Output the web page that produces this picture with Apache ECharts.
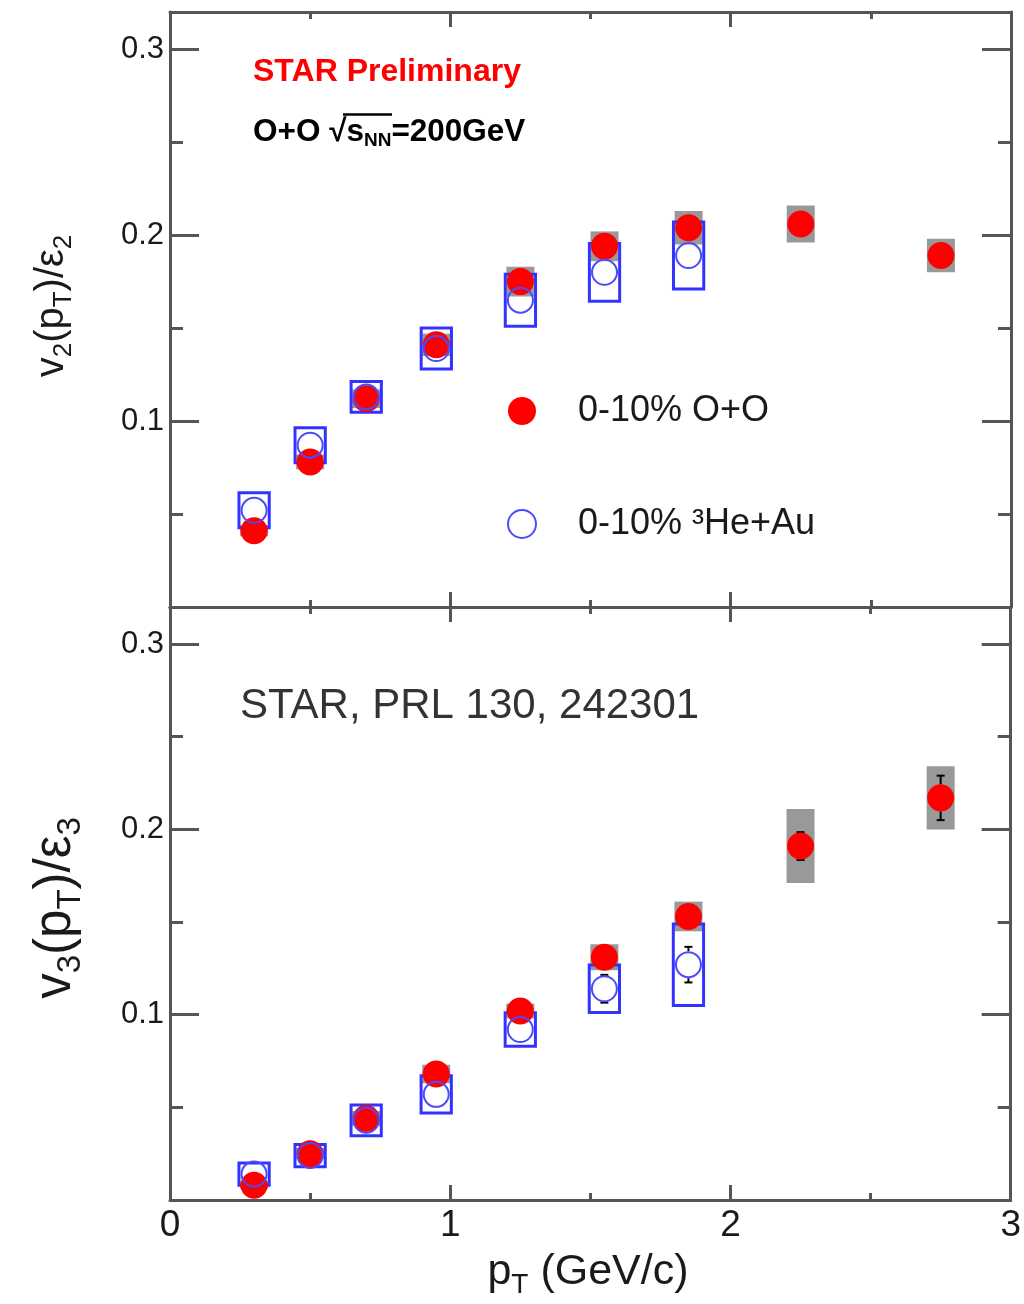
<!DOCTYPE html>
<html><head><meta charset="utf-8">
<script src="https://cdn.jsdelivr.net/npm/echarts@6/dist/echarts.min.js"></script>
<style>html,body{margin:0;padding:0;background:#fff}#c{width:1024px;height:1304px}</style>
</head><body><div id="c"></div>
<script>
// ---------- data ----------
const pT_OO   = [0.3, 0.5, 0.7, 0.95, 1.25, 1.55, 1.85, 2.25, 2.75];
const pT_HeAu = [0.3, 0.5, 0.7, 0.95, 1.25, 1.55, 1.85];

const v2_OO      = [0.041, 0.078, 0.112, 0.141, 0.175, 0.194, 0.204, 0.206, 0.189];
const v2_OO_stat = [0.001, 0.001, 0.001, 0.002, 0.002, 0.003, 0.003, 0.004, 0.005];
const v2_OO_sys  = [0.003, 0.004, 0.005, 0.006, 0.008, 0.008, 0.009, 0.010, 0.009];
const v2_HeAu      = [0.052, 0.087, 0.113, 0.139, 0.165, 0.180, 0.189];
const v2_HeAu_stat = [0.001, 0.001, 0.001, 0.002, 0.002, 0.003, 0.004];
const v2_HeAu_sys  = [0.0094, 0.0094, 0.0083, 0.011, 0.014, 0.0155, 0.018];

const v3_OO      = [0.008, 0.025, 0.044, 0.068, 0.102, 0.131, 0.153, 0.191, 0.217];
const v3_OO_stat = [0.001, 0.001, 0.002, 0.002, 0.003, 0.004, 0.005, 0.0075, 0.012];
const v3_OO_sys  = [0.002, 0.003, 0.004, 0.005, 0.004, 0.007, 0.008, 0.020, 0.017];
const v3_HeAu      = [0.014, 0.024, 0.043, 0.057, 0.092, 0.114, 0.127];
const v3_HeAu_stat = [0.002, 0.002, 0.003, 0.004, 0.005, 0.0075, 0.0096];
const v3_HeAu_sys  = [0.006, 0.006, 0.0083, 0.010, 0.009, 0.0128, 0.022];

const xTickLabels = [0, 1, 2, 3];
const yTickLabels = [0.1, 0.2, 0.3];
const NAME_OO = '0-10% O+O';
const NAME_HE = '0-10% \u00B3He+Au';

// ---------- styling ----------
const FONT = "'Liberation Sans', Arial, Helvetica, sans-serif";
const FRAME = '#555555';
const RED = '#ff0000';
const BLUE = '#3333ff';
const GRAY = '#999999';
const MARK = 27;

const chart = echarts.init(document.getElementById('c'), null, {renderer: 'canvas', width: 1024, height: 1304});

function xAx(grid, pos, showLabel) {
  return {
    type: 'value', gridIndex: grid, position: pos, min: 0, max: 3, interval: 1,
    axisLine: {show: true, onZero: false, lineStyle: {color: FRAME, width: 3}},
    axisTick: {show: true, inside: true, length: 15, lineStyle: {color: FRAME, width: 3}},
    minorTick: {show: true, splitNumber: 2, length: 7, lineStyle: {color: FRAME, width: 3}},
    splitLine: {show: false}, minorSplitLine: {show: false},
    axisLabel: {show: showLabel, fontSize: 37, color: '#1a1a1a', fontFamily: FONT, margin: 7,
      formatter: v => xTickLabels.indexOf(v) >= 0 ? String(v) : ''}
  };
}
function yAx(grid, pos, major) {
  return {
    type: 'value', gridIndex: grid, position: pos, min: 0, max: 0.32, interval: major ? 0.1 : 0.05,
    axisLine: {show: major, onZero: false, lineStyle: {color: FRAME, width: 3}},
    axisTick: {show: true, inside: true, length: major ? 29 : 13, lineStyle: {color: FRAME, width: 3}},
    splitLine: {show: false},
    axisLabel: {show: major && pos === 'left', fontSize: 31, color: '#1a1a1a', fontFamily: FONT, margin: 6,
      formatter: v => { const m = yTickLabels.find(t => Math.abs(t - v) < 1e-9); return m !== undefined ? m.toFixed(1) : ''; }}
  };
}

function boxSeries(xs, ys, errs, halfW, style, xi, yi) {
  return {
    type: 'custom', xAxisIndex: xi, yAxisIndex: yi, silent: true,
    data: xs.map((x, i) => [x, ys[i], errs[i]]),
    renderItem: (params, api) => {
      const x = api.value(0), y = api.value(1), e = api.value(2);
      const p1 = api.coord([x - halfW, y + e]);
      const p2 = api.coord([x + halfW, y - e]);
      return {type: 'rect', shape: {x: p1[0], y: p1[1], width: p2[0] - p1[0], height: p2[1] - p1[1]}, style: style};
    }
  };
}
function errSeries(xs, ys, errs, xi, yi) {
  return {
    type: 'custom', xAxisIndex: xi, yAxisIndex: yi, silent: true,
    data: xs.map((x, i) => [x, ys[i], errs[i]]),
    renderItem: (params, api) => {
      const x = api.value(0), y = api.value(1), e = api.value(2);
      const c = api.coord([x, y]);
      const top = api.coord([x, y + e])[1];
      const bot = api.coord([x, y - e])[1];
      const r = MARK / 2;
      const st = {stroke: '#000', lineWidth: 2};
      const ch = [];
      if (c[1] - top > r) {
        ch.push({type: 'line', shape: {x1: c[0], y1: c[1] - r, x2: c[0], y2: top}, style: st});
        ch.push({type: 'line', shape: {x1: c[0] - 4, y1: top, x2: c[0] + 4, y2: top}, style: st});
      }
      if (bot - c[1] > r) {
        ch.push({type: 'line', shape: {x1: c[0], y1: c[1] + r, x2: c[0], y2: bot}, style: st});
        ch.push({type: 'line', shape: {x1: c[0] - 4, y1: bot, x2: c[0] + 4, y2: bot}, style: st});
      }
      return {type: 'group', children: ch};
    }
  };
}
function panel(xi, yi, oo, ooStat, ooSys, he, heStat, heSys) {
  return [
    boxSeries(pT_OO, oo, ooSys, 0.05, {fill: GRAY}, xi, yi),
    errSeries(pT_OO, oo, ooStat, xi, yi),
    {type: 'scatter', name: NAME_OO, xAxisIndex: xi, yAxisIndex: yi, symbol: 'circle', symbolSize: MARK,
     itemStyle: {color: RED, opacity: 1}, emphasis: {disabled: true}, data: pT_OO.map((x, i) => [x, oo[i]])},
    boxSeries(pT_HeAu, he, heSys, 0.054, {fill: 'transparent', stroke: BLUE, lineWidth: 3}, xi, yi),
    errSeries(pT_HeAu, he, heStat, xi, yi),
    {type: 'scatter', name: NAME_HE, xAxisIndex: xi, yAxisIndex: yi, symbol: 'circle', symbolSize: MARK - 2,
     itemStyle: {color: 'transparent', borderColor: '#4a4aff', borderWidth: 2, opacity: 1}, emphasis: {disabled: true},
     data: pT_HeAu.map((x, i) => [x, he[i]])}
  ];
}

function subRich(size, lh, pad) {
  return {fontSize: size, fontFamily: FONT, lineHeight: lh, padding: [pad, 0, 0, 0], fill: '#1a1a1a'};
}

const option = {
  animation: false,
  backgroundColor: '#ffffff',
  grid: [
    {left: 170, top: 12, width: 841, height: 595},
    {left: 170, top: 607, width: 841, height: 593}
  ],
  xAxis: [xAx(0, 'bottom', false), xAx(0, 'top', false), xAx(1, 'bottom', true), xAx(1, 'top', false)],
  yAxis: [yAx(0, 'left', true), yAx(0, 'right', true), yAx(0, 'left', false), yAx(0, 'right', false),
          yAx(1, 'left', true), yAx(1, 'right', true), yAx(1, 'left', false), yAx(1, 'right', false)],
  legend: {
    data: [NAME_OO, NAME_HE], orient: 'vertical', left: 507, top: 393,
    itemWidth: 28, itemHeight: 28, itemGap: 77, icon: 'circle', padding: 0, selectedMode: false,
    formatter: n => '{t|' + n + '}',
    textStyle: {fontSize: 36, color: '#1a1a1a', fontFamily: FONT,
      rich: {t: {fontSize: 36, color: '#1a1a1a', fontFamily: FONT, padding: [0, 0, 0, 37], lineHeight: 42}}}
  },
  series: [].concat(
    panel(0, 0, v2_OO, v2_OO_stat, v2_OO_sys, v2_HeAu, v2_HeAu_stat, v2_HeAu_sys),
    panel(2, 4, v3_OO, v3_OO_stat, v3_OO_sys, v3_HeAu, v3_HeAu_stat, v3_HeAu_sys)
  ),
  graphic: [
    {type: 'text', x: 253, y: 72, silent: true,
     style: {text: 'STAR Preliminary', fill: RED, font: 'bold 32px ' + FONT, textAlign: 'left', textVerticalAlign: 'middle', align: 'left', verticalAlign: 'middle'}},
    {type: 'text', x: 253, y: 132, silent: true,
     style: {text: 'O+O \u221As{n|NN}=200GeV', fill: '#000', fontSize: 31.5, fontWeight: 'bold', fontFamily: FONT, lineHeight: 31,
       textAlign: 'left', textVerticalAlign: 'middle', align: 'left', verticalAlign: 'middle',
       rich: {n: {fontSize: 19, fontWeight: 'bold', fontFamily: FONT, lineHeight: 31, padding: [18, 0, 0, 0], fill: '#000'}}}},
    {type: 'line', silent: true, z: 100, shape: {x1: 343, y1: 114.5, x2: 392, y2: 114.5}, style: {stroke: '#000', lineWidth: 2.5}},
    {type: 'text', x: 240, y: 706, silent: true,
     style: {text: 'STAR, PRL 130, 242301', fill: '#333', font: '42px ' + FONT, textAlign: 'left', textVerticalAlign: 'middle', align: 'left', verticalAlign: 'middle'}},
    {type: 'text', x: 52, y: 306, rotation: Math.PI / 2, silent: true,
     style: {text: 'v{s|2}(p{s|T})/\u03B5{s|2}', fill: '#1a1a1a', fontSize: 40, fontFamily: FONT, lineHeight: 40,
       textAlign: 'center', textVerticalAlign: 'middle', align: 'center', verticalAlign: 'middle',
       rich: {s: subRich(26, 40, 24)}}},
    {type: 'text', x: 56, y: 908, rotation: Math.PI / 2, silent: true,
     style: {text: 'v{s|3}(p{s|T})/\u03B5{s|3}', fill: '#1a1a1a', fontSize: 51, fontFamily: FONT, lineHeight: 51,
       textAlign: 'center', textVerticalAlign: 'middle', align: 'center', verticalAlign: 'middle',
       rich: {s: subRich(33, 51, 30)}}},
    {type: 'text', x: 588, y: 1272, silent: true,
     style: {text: 'p{s|T} (GeV/c)', fill: '#1a1a1a', fontSize: 43, fontFamily: FONT, lineHeight: 43,
       textAlign: 'center', textVerticalAlign: 'middle', align: 'center', verticalAlign: 'middle',
       rich: {s: subRich(28, 43, 26)}}}
  ]
};
chart.setOption(option);
</script></body></html>
